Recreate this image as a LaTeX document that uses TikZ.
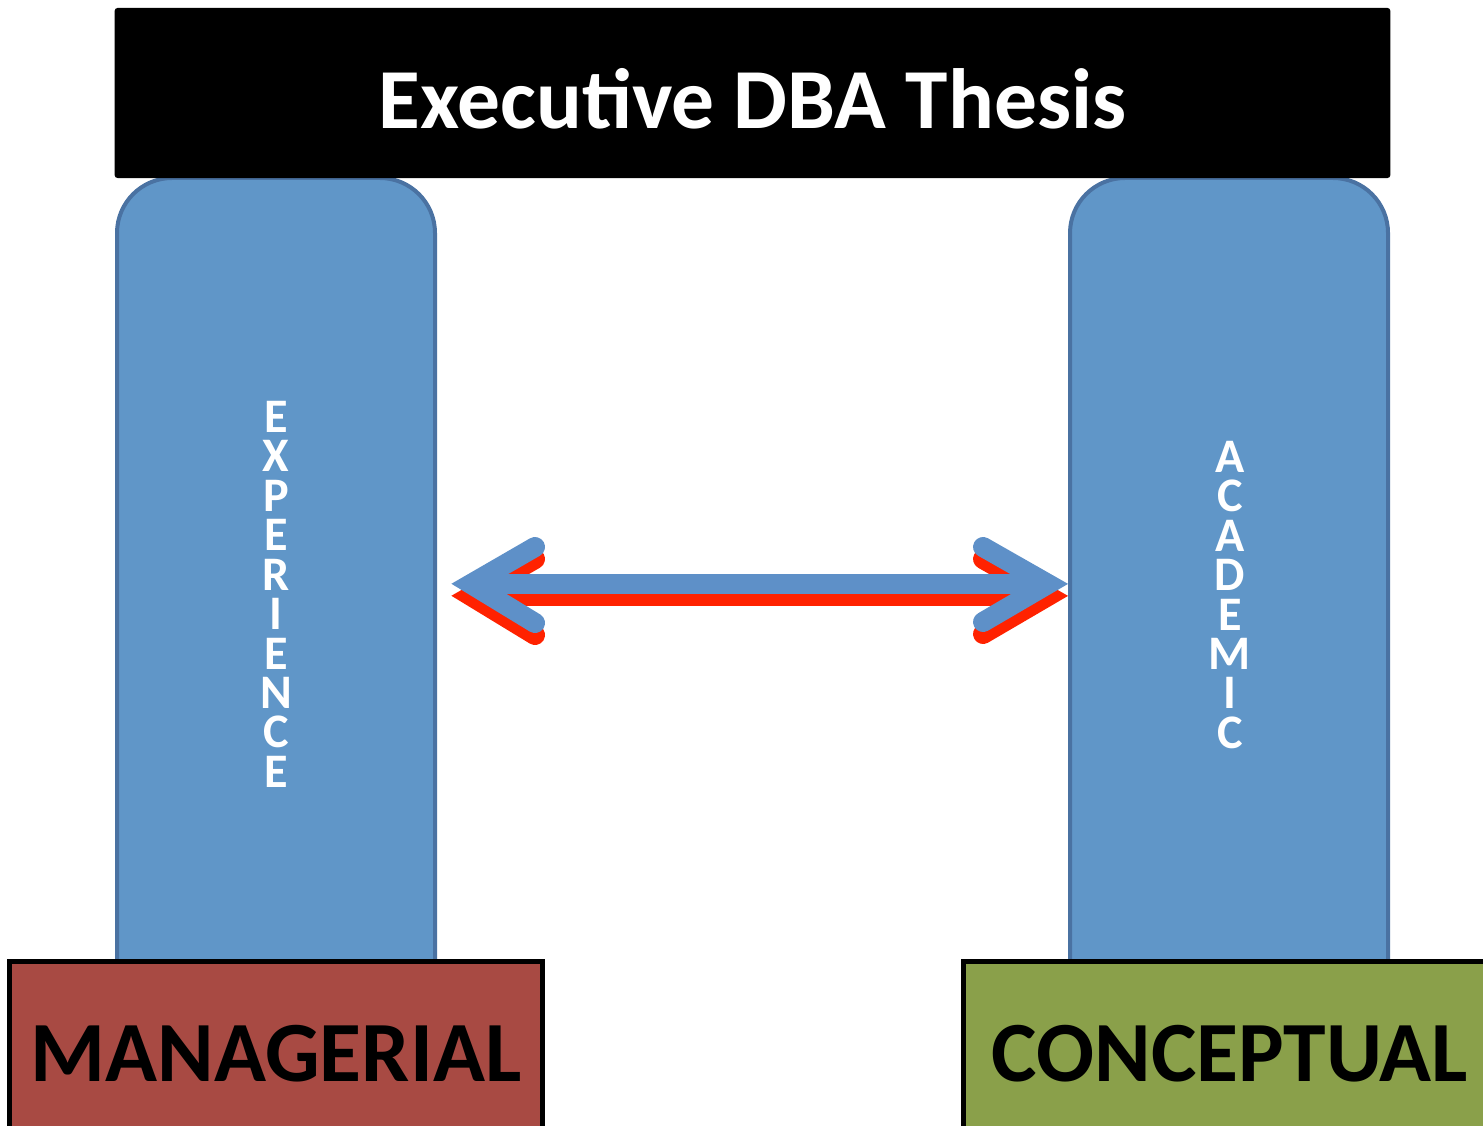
\documentclass[tikz,border=0pt]{standalone}
\usepackage{fontspec}
\setmainfont{Carlito}
\definecolor{pillarblue}{HTML}{6096C8}
\definecolor{pillaredge}{HTML}{4A72A2}
\definecolor{arrowblue}{HTML}{5E90C8}
\definecolor{shadowred}{HTML}{FF2200}
\definecolor{managered}{HTML}{A84A43}
\definecolor{conceptgreen}{HTML}{8AA04A}

\begin{document}
\begin{tikzpicture}[x=0.01cm,y=-0.01cm,
    pillar/.style={fill=pillarblue, draw=pillaredge, line width=0.04cm, rounded corners=0.55cm},
    pillartext/.style={text=white, align=center, font=\fontsize{13.7}{11.21}\selectfont\bfseries, inner sep=0pt},
    basebox/.style={draw=black, line width=0.05cm, minimum width=5.32cm, minimum height=1.83cm,
        font=\fontsize{24.4}{27}\selectfont\bfseries, inner sep=0pt},
    chevron/.style={line width=0.2cm, line cap=round, line join=miter}]
    \useasboundingbox (0,0) rectangle (1483,1125);
    \clip (0,0) rectangle (1483,1125);

    % pillars
    \draw[pillar] (117,990) -- (117,178) -- (435,178) -- (435,990);
    \draw[pillar] (1070,990) -- (1070,178) -- (1388,178) -- (1388,990);

    % roof
    \node[fill=black, rounded corners=0.03cm, minimum width=12.75cm, minimum height=1.7cm,
          text=white, text height=0.72cm, inner sep=0pt,
          font=\fontsize{24.3}{28}\selectfont\bfseries] (thesis) at (752.5,93)
          {Executive DBA Thesis};

    % letters stacked on the pillars
    \node[pillartext] (experience) at (276,594.3) {E\\X\\P\\E\\R\\I\\E\\N\\C\\E};
    \node[pillartext] (academic) at (1230,594.9) {A\\C\\A\\D\\E\\M\\I\\C};

    % double arrow, red shadow first
    \coordinate (lefttip) at (471,584);
    \coordinate (righttip) at (1048,584);
    \draw[chevron, shadowred] (535,559) -- ([yshift=-0.12cm]lefttip) -- (535,635);
    \draw[chevron, shadowred] (983,559) -- ([yshift=-0.12cm]righttip) -- (983,634);
    \draw[line width=0.2cm, shadowred] ([yshift=-0.12cm]lefttip) -- ([yshift=-0.12cm]righttip);
    \draw[chevron, arrowblue] (535,547) -- (lefttip) -- (535,623);
    \draw[chevron, arrowblue] (983,547) -- (righttip) -- (983,622);
    \draw[line width=0.2cm, arrowblue] (lefttip) -- (righttip);

    % bases
    \node[basebox, fill=managered] (managerial) at (276,1053.5) {MANAGERIAL};
    \node[basebox, fill=conceptgreen] (conceptual) at (1230,1053.5) {CONCEPTUAL};
\end{tikzpicture}
\end{document}
